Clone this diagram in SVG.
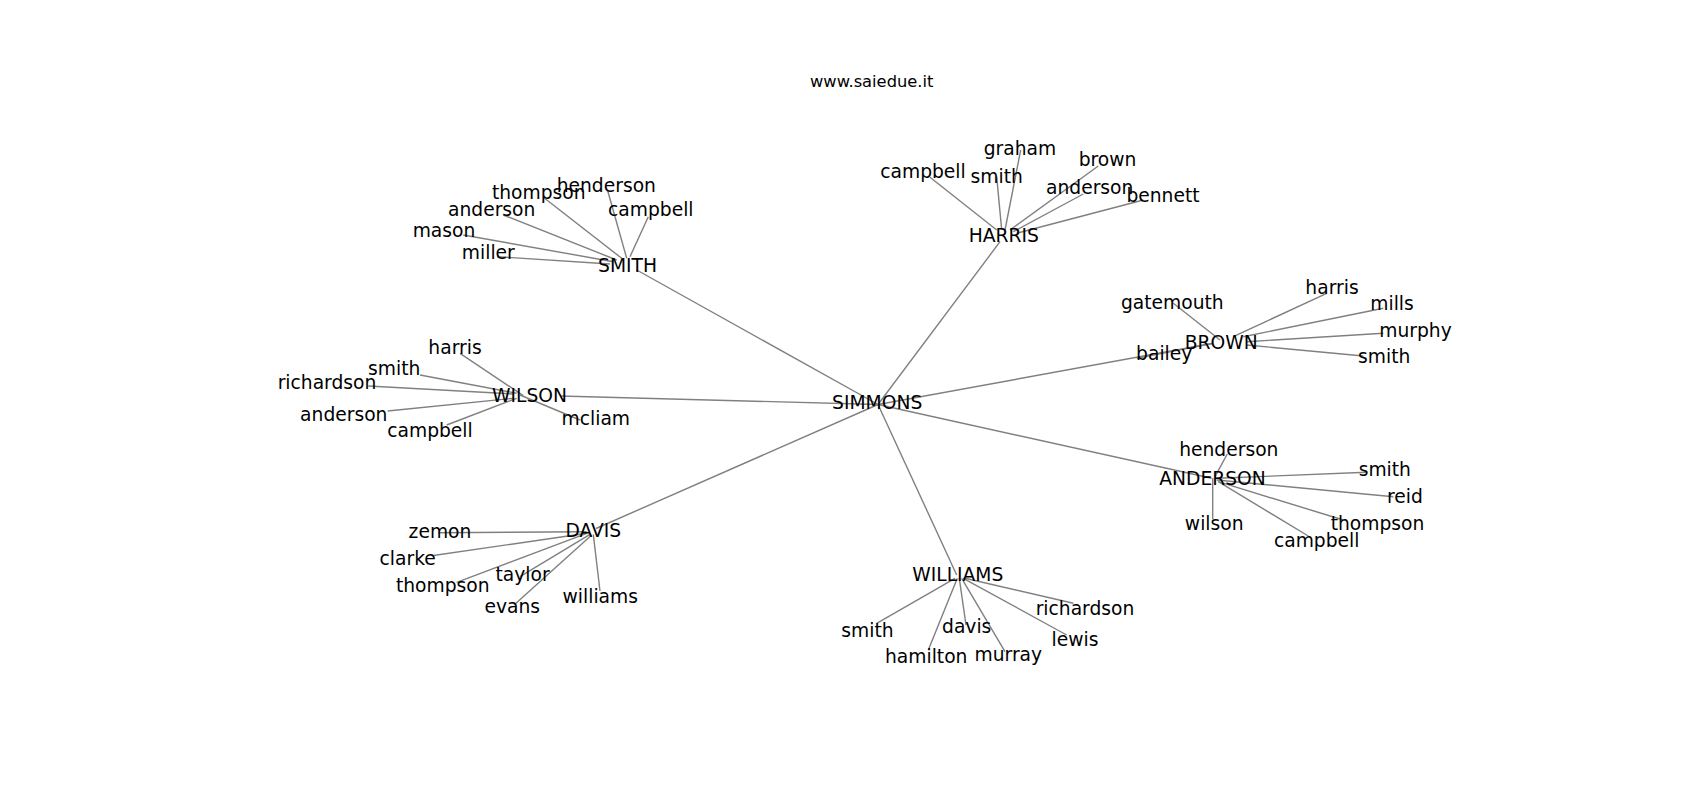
<svg xmlns="http://www.w3.org/2000/svg" width="1700" height="800" viewBox="0 0 1700 800">
<style>
.e{stroke:#808080;stroke-width:1.4;fill:none;stroke-linecap:butt}
text{font-family:"DejaVu Sans","Liberation Sans",sans-serif;fill:#000;text-anchor:middle}
.l{font-size:18.7px}
.t{font-size:16.3px}
</style>
<rect width="1700" height="800" fill="#fff"/>
<text class="t" x="871.7" y="87.3">www.saiedue.it</text>
<g id="edges">
<!-- hub edges -->
<line class="e" x1="878" y1="404.5" x2="636.7" y2="270"/>
<line class="e" x1="878" y1="404.5" x2="1000" y2="241.7"/>
<line class="e" x1="878" y1="404.5" x2="1212" y2="343.5"/>
<line class="e" x1="878" y1="404.5" x2="1211.7" y2="478.3"/>
<line class="e" x1="878" y1="404.5" x2="956.7" y2="575"/>
<line class="e" x1="878" y1="404.5" x2="596" y2="528.5"/>
<line class="e" x1="878" y1="404.5" x2="560" y2="396"/>
<!-- SMITH -->
<line class="e" x1="607.7" y1="190.7" x2="626.7" y2="258.3"/>
<line class="e" x1="543.3" y1="197.3" x2="621.7" y2="258.3"/>
<line class="e" x1="503.3" y1="215" x2="616.7" y2="260"/>
<line class="e" x1="463.3" y1="235" x2="613.3" y2="261.7"/>
<line class="e" x1="497" y1="256.7" x2="610" y2="264"/>
<line class="e" x1="648.3" y1="216.7" x2="630" y2="256.7"/>
<!-- HARRIS -->
<line class="e" x1="930" y1="177.3" x2="996.7" y2="230"/>
<line class="e" x1="996.7" y1="176.7" x2="1001.7" y2="230"/>
<line class="e" x1="1020.7" y1="150" x2="1005" y2="230"/>
<line class="e" x1="1098.3" y1="166" x2="1010" y2="230"/>
<line class="e" x1="1083.3" y1="194" x2="1013.3" y2="231.7"/>
<line class="e" x1="1143.3" y1="200" x2="1016.7" y2="233.3"/>
<!-- WILSON -->
<line class="e" x1="460" y1="353.3" x2="523.3" y2="395.7"/>
<line class="e" x1="420" y1="375" x2="516.7" y2="393.3"/>
<line class="e" x1="368.3" y1="386" x2="513.3" y2="394"/>
<line class="e" x1="387.7" y1="411" x2="513.3" y2="398.3"/>
<line class="e" x1="446.7" y1="425" x2="516.7" y2="398.3"/>
<line class="e" x1="580" y1="420" x2="520" y2="395"/>
<!-- DAVIS -->
<line class="e" x1="438.3" y1="532.7" x2="586.7" y2="531.7"/>
<line class="e" x1="431.7" y1="555.7" x2="586.7" y2="533.3"/>
<line class="e" x1="456.7" y1="582.3" x2="586.7" y2="533.3"/>
<line class="e" x1="520" y1="576.7" x2="590" y2="534.3"/>
<line class="e" x1="514" y1="605" x2="591.7" y2="535"/>
<line class="e" x1="600" y1="591" x2="593.3" y2="534.3"/>
<!-- WILLIAMS -->
<line class="e" x1="876.7" y1="623.3" x2="955" y2="578.3"/>
<line class="e" x1="928.3" y1="650" x2="957.3" y2="578.3"/>
<line class="e" x1="966" y1="625" x2="959.3" y2="578.3"/>
<line class="e" x1="1005" y1="651.7" x2="961.7" y2="578.3"/>
<line class="e" x1="1066.7" y1="635" x2="963.3" y2="578.3"/>
<line class="e" x1="1073.3" y1="603.3" x2="965" y2="578.3"/>
<!-- ANDERSON -->
<line class="e" x1="1227.3" y1="454" x2="1215" y2="476.7"/>
<line class="e" x1="1212.7" y1="519.3" x2="1212.7" y2="478.3"/>
<line class="e" x1="1366.7" y1="472.3" x2="1216.7" y2="478.3"/>
<line class="e" x1="1393.3" y1="496.7" x2="1216.7" y2="480"/>
<line class="e" x1="1343.3" y1="520" x2="1218.3" y2="481.7"/>
<line class="e" x1="1308.3" y1="536" x2="1218.3" y2="481.7"/>
<!-- BROWN -->
<line class="e" x1="1136.7" y1="358.3" x2="1212" y2="343.5"/>
<line class="e" x1="1173.3" y1="303.3" x2="1220" y2="340"/>
<line class="e" x1="1326.7" y1="293.3" x2="1233.3" y2="336.7"/>
<line class="e" x1="1383.3" y1="308.3" x2="1243.3" y2="336.7"/>
<line class="e" x1="1383.3" y1="333.3" x2="1246.7" y2="341.7"/>
<line class="e" x1="1363.3" y1="356" x2="1246.7" y2="345"/>
</g>
<g id="simmons"><text class="l" x="877.2" y="409">SIMMONS</text></g>
<g id="smith"><text class="l" x="627.5" y="271.7">SMITH</text></g>
<g id="smith-henderson"><text class="l" x="606.3" y="191.7">henderson</text></g>
<g id="smith-thompson"><text class="l" x="538.8" y="199.3">thompson</text></g>
<g id="smith-anderson"><text class="l" x="491.7" y="216">anderson</text></g>
<g id="smith-campbell"><text class="l" x="650.8" y="216">campbell</text></g>
<g id="smith-mason"><text class="l" x="444" y="236.7">mason</text></g>
<g id="smith-miller"><text class="l" x="488.3" y="259.3">miller</text></g>
<g id="harris"><text class="l" x="1003.8" y="241.7">HARRIS</text></g>
<g id="harris-graham"><text class="l" x="1020" y="155">graham</text></g>
<g id="harris-brown"><text class="l" x="1107.5" y="165.7">brown</text></g>
<g id="harris-campbell"><text class="l" x="923" y="178.3">campbell</text></g>
<g id="harris-smith"><text class="l" x="996.7" y="182.7">smith</text></g>
<g id="harris-anderson"><text class="l" x="1089.7" y="194">anderson</text></g>
<g id="harris-bennett"><text class="l" x="1163" y="201.7">bennett</text></g>
<g id="wilson"><text class="l" x="529.5" y="402.3">WILSON</text></g>
<g id="wilson-harris"><text class="l" x="455" y="354.3">harris</text></g>
<g id="wilson-smith"><text class="l" x="394.2" y="375">smith</text></g>
<g id="wilson-richardson"><text class="l" x="327" y="389">richardson</text></g>
<g id="wilson-anderson"><text class="l" x="343.8" y="421">anderson</text></g>
<g id="wilson-mcliam"><text class="l" x="595.8" y="425">mcliam</text></g>
<g id="wilson-campbell"><text class="l" x="430" y="436.7">campbell</text></g>
<g id="davis"><text class="l" x="593.3" y="536.7">DAVIS</text></g>
<g id="davis-zemon"><text class="l" x="440" y="538.3">zemon</text></g>
<g id="davis-clarke"><text class="l" x="407.7" y="565">clarke</text></g>
<g id="davis-taylor"><text class="l" x="522.5" y="581">taylor</text></g>
<g id="davis-thompson"><text class="l" x="442.8" y="592.3">thompson</text></g>
<g id="davis-williams"><text class="l" x="600.3" y="603.3">williams</text></g>
<g id="davis-evans"><text class="l" x="512.2" y="613.3">evans</text></g>
<g id="williams"><text class="l" x="957.8" y="580.7">WILLIAMS</text></g>
<g id="williams-richardson"><text class="l" x="1085" y="615">richardson</text></g>
<g id="williams-smith"><text class="l" x="867.5" y="637.3">smith</text></g>
<g id="williams-davis"><text class="l" x="966.7" y="633.3">davis</text></g>
<g id="williams-lewis"><text class="l" x="1075" y="645.7">lewis</text></g>
<g id="williams-hamilton"><text class="l" x="926.2" y="663.3">hamilton</text></g>
<g id="williams-murray"><text class="l" x="1008.3" y="660.7">murray</text></g>
<g id="anderson"><text class="l" x="1212.5" y="485">ANDERSON</text></g>
<g id="anderson-henderson"><text class="l" x="1228.8" y="456">henderson</text></g>
<g id="anderson-smith"><text class="l" x="1384.8" y="476">smith</text></g>
<g id="anderson-reid"><text class="l" x="1405" y="503.3">reid</text></g>
<g id="anderson-wilson"><text class="l" x="1214.2" y="530">wilson</text></g>
<g id="anderson-thompson"><text class="l" x="1377.5" y="530">thompson</text></g>
<g id="anderson-campbell"><text class="l" x="1316.7" y="546.7">campbell</text></g>
<g id="brown"><text class="l" x="1221.2" y="349">BROWN</text></g>
<g id="brown-gatemouth"><text class="l" x="1172.3" y="309.3">gatemouth</text></g>
<g id="brown-harris"><text class="l" x="1332" y="294">harris</text></g>
<g id="brown-mills"><text class="l" x="1392" y="310">mills</text></g>
<g id="brown-murphy"><text class="l" x="1415.5" y="336.7">murphy</text></g>
<g id="brown-bailey"><text class="l" x="1164.2" y="360">bailey</text></g>
<g id="brown-smith"><text class="l" x="1384.2" y="363.3">smith</text></g>
</svg>
